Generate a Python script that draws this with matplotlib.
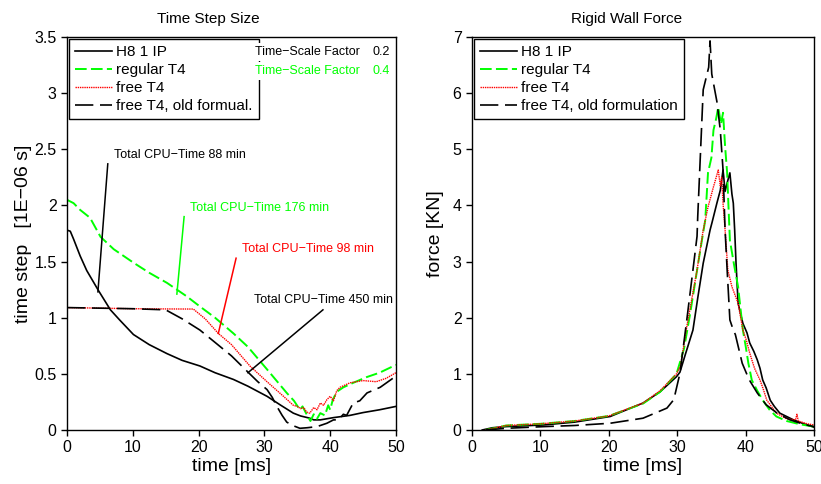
import numpy as np
import matplotlib.pyplot as plt

plt.rcParams['font.family'] = ['Liberation Sans', 'DejaVu Sans']

MINUS = '\u2212'
GREEN = '#00ff00'
RED = '#ff0000'

# ---- left panel: time step size [1E-06 s] vs time [ms]
TS_X_H8 = [0, 0.5, 1, 2, 3, 4, 4.8, 6.6, 8, 10.1, 12.5, 15.2, 17.5, 20.2, 22.5, 25.3,
           27.5, 30.4, 32.5, 34.4, 35.5, 36.9, 37.5, 38.5, 40.5, 43, 45, 47.5, 50]
TS_Y_H8 = [1.78, 1.77, 1.70, 1.55, 1.42, 1.32, 1.24, 1.07, 0.98, 0.85, 0.76, 0.68, 0.62,
           0.57, 0.51, 0.45, 0.39, 0.30, 0.22, 0.15, 0.125, 0.105, 0.09, 0.09, 0.11, 0.13,
           0.155, 0.18, 0.21]

TS_X_REG = [0, 1, 2, 3.5, 5.1, 7.1, 10.1, 12.5, 15.2, 18.2, 20.2, 22.5, 25.3, 27.5, 30.4,
            33.4, 34.5, 35.4, 35.8, 36.5, 37.0, 37.5, 38.0, 38.5, 39.2, 39.7, 40.0, 40.4,
            41, 42, 43.5, 45.5, 47.5, 50]
TS_Y_REG = [2.05, 2.02, 1.96, 1.89, 1.72, 1.61, 1.49, 1.40, 1.31, 1.19, 1.10, 1.00, 0.86,
            0.74, 0.54, 0.33, 0.26, 0.18, 0.21, 0.13, 0.08, 0.14, 0.10, 0.15, 0.13, 0.22,
            0.18, 0.27, 0.34, 0.38, 0.42, 0.47, 0.51, 0.58]

TS_X_FREE = [0, 5, 10, 15, 19.2, 21, 23, 25, 27.8, 30.4, 32.9, 34.4, 35, 35.5, 36, 36.4,
             36.9, 37.5, 38, 38.5, 39, 39.5, 40, 40.5, 41, 41.5, 43, 45, 47, 48.5, 50]
TS_Y_FREE = [1.09, 1.085, 1.08, 1.078, 1.077, 0.99, 0.86, 0.76, 0.57, 0.43, 0.30, 0.22,
             0.21, 0.19, 0.20, 0.16, 0.15, 0.20, 0.18, 0.24, 0.22, 0.27, 0.30, 0.26, 0.35,
             0.38, 0.42, 0.44, 0.43, 0.46, 0.51]

TS_X_OLD = [0, 5, 10, 15, 17.5, 20.2, 22.5, 25, 27.6, 29, 30.4, 31.2, 31.9, 32.7, 33.4,
            34.3, 35.4, 36.5, 38, 39.5, 40.5, 41.3, 42, 42.5, 43.5, 44.5, 45.6, 47.6, 50]
TS_Y_OLD = [1.09, 1.085, 1.08, 1.07, 0.99, 0.89, 0.78, 0.66, 0.51, 0.43, 0.36, 0.29, 0.21,
            0.13, 0.07, 0.04, 0.015, 0.02, 0.03, 0.06, 0.09, 0.09, 0.14, 0.13, 0.24, 0.26,
            0.33, 0.38, 0.48]

# annotations: text, text anchor (left, center), leader line (text end -> curve end), colour
CPU_TEXT = ['Total CPU' + MINUS + 'Time 88 min', 'Total CPU' + MINUS + 'Time 176 min',
            'Total CPU' + MINUS + 'Time 98 min', 'Total CPU' + MINUS + 'Time 450 min']
CPU_TEXT_XY = [(7.1, 2.45), (18.7, 1.98), (26.6, 1.61), (28.4, 1.16)]
CPU_LINE_FROM = [(6.2, 2.37), (17.8, 1.90), (25.7, 1.53), (38.9, 1.07)]
CPU_LINE_TO = [(4.7, 1.23), (16.7, 1.21), (23.0, 0.86), (27.5, 0.51)]
CPU_COLOR = ['black', GREEN, RED, 'black']

TSF_LABELS = ['Time' + MINUS + 'Scale Factor', 'Time' + MINUS + 'Scale Factor']
TSF_VALUES = ['0.2', '0.4']
TSF_COLOR = ['black', GREEN]

# ---- right panel: rigid wall force [KN] vs time [ms]
F_X_H8 = [1.5, 3, 5, 10.5, 15, 20.2, 25, 27.5, 29.9, 30.4, 31.2, 32.3, 33.0, 33.8, 34.8,
          35.1, 35.8, 36.3, 36.7, 37.0, 37.3, 37.7, 38.0, 38.2, 38.4, 38.6, 38.9, 39.3,
          39.6, 40.2, 40.6, 41.2, 41.7, 42.1, 42.5, 43.0, 43.6, 44.2, 45, 46, 47, 48.5, 50]
F_Y_H8 = [0.0, 0.04, 0.06, 0.09, 0.14, 0.24, 0.48, 0.68, 0.95, 1.03, 1.35, 1.78, 2.35,
          2.97, 3.56, 3.70, 4.04, 4.27, 4.63, 4.25, 4.40, 4.58, 4.20, 4.04, 3.56, 2.97,
          2.26, 2.05, 1.90, 1.73, 1.55, 1.40, 1.25, 1.10, 0.89, 0.75, 0.53, 0.42, 0.30,
          0.24, 0.18, 0.11, 0.05]

F_X_REG = [2, 5, 10, 15, 20, 25, 27.5, 29.9, 31.0, 31.9, 33.3, 34.1, 34.5, 35.0, 35.3,
           35.7, 36.0, 36.4, 36.7, 37.0, 37.3, 37.5, 37.7, 38.3, 38.9, 39.6, 40.0, 40.4,
           40.9, 41.7, 42.5, 43.5, 44.5, 46, 48, 50]
F_Y_REG = [0.0, 0.08, 0.11, 0.16, 0.25, 0.47, 0.68, 1.0, 1.45, 2.08, 3.15, 3.74, 4.58,
           4.85, 5.34, 5.55, 5.75, 5.45, 5.65, 5.05, 4.58, 3.97, 3.38, 2.95, 2.55, 1.78,
           1.50, 1.19, 0.89, 0.70, 0.53, 0.36, 0.24, 0.16, 0.10, 0.06]

F_X_FREE = [2, 5, 10, 15, 20, 25, 27.5, 29.9, 30.5, 31.4, 32.9, 33.8, 34.5, 35.3, 35.7,
            36.0, 36.3, 36.5, 36.7, 37.0, 37.4, 38.0, 38.9, 39.6, 40.1, 40.6, 41.3, 42.1,
            42.6, 43.1, 44.5, 46, 47.3, 47.5, 47.7, 49, 50]
F_Y_FREE = [0.0, 0.08, 0.11, 0.16, 0.25, 0.48, 0.70, 1.0, 1.15, 1.84, 2.85, 3.56, 3.97,
            4.33, 4.50, 4.63, 4.35, 4.50, 4.04, 3.56, 2.85, 2.55, 2.26, 1.78, 1.60, 1.37,
            1.10, 0.89, 0.72, 0.53, 0.30, 0.20, 0.18, 0.28, 0.16, 0.11, 0.09]

F_X_OLD = [2, 5, 10.5, 15, 20.2, 25, 28.5, 29.5, 30.4, 31.4, 32.3, 32.9, 33.0, 33.8, 34.6,
           34.8, 35.05, 35.8, 36.3, 36.7, 37.0, 37.3, 37.7, 38.2, 38.5, 39.5, 40.5, 41.7,
           43.0, 44.6, 46.5, 48.5, 50]
F_Y_OLD = [0.0, 0.03, 0.06, 0.08, 0.12, 0.21, 0.39, 0.54, 1.01, 1.96, 2.85, 3.45, 3.8,
           6.06, 6.46, 6.93, 6.34, 5.85, 5.34, 4.63, 3.56, 2.85, 1.96, 1.78, 1.70, 1.19,
           0.90, 0.66, 0.45, 0.30, 0.18, 0.10, 0.06]

LEGEND_LEFT = ['H8 1 IP', 'regular T4', 'free T4', 'free T4, old formual.']
LEGEND_RIGHT = ['H8 1 IP', 'regular T4', 'free T4', 'free T4, old formulation']

STYLES = [dict(color='black', lw=1.2, ls='-'),
          dict(color=GREEN, lw=1.4, ls=(0, (6, 2.2))),
          dict(color=RED, lw=1.0, ls=(0, (1, 0.6))),
          dict(color='black', lw=1.2, ls=(0, (11, 4)))]


def style_axes(ax, ymax, ystep, ylabels):
    ax.set_xlim(0, 50)
    ax.set_ylim(0, ymax)
    ax.set_xticks(np.arange(0, 51, 10))
    yt = np.arange(0, ymax + 1e-9, ystep)
    ax.set_yticks(yt)
    ax.set_yticklabels(ylabels)
    ax.tick_params(direction='out', length=4, width=1, labelsize=11.5, top=False, right=False)
    for s in ax.spines.values():
        s.set_linewidth(1.0)
    ax.set_xlabel('time [ms]', fontsize=14, labelpad=2)


def add_legend(ax, labels):
    leg = ax.legend(labels, loc='upper left', fontsize=11, frameon=True, fancybox=False,
                    edgecolor='black', framealpha=1, borderaxespad=0.12, borderpad=0.4,
                    handlelength=2.4, handletextpad=0.3, labelspacing=0.27)
    leg.get_frame().set_linewidth(1.0)


fig = plt.figure(figsize=(8.21, 4.84), dpi=100)
ax1 = fig.add_axes([0.0816, 0.1116, 0.4007, 0.812])
ax2 = fig.add_axes([0.5749, 0.1116, 0.4166, 0.812])

for (xs, ys), st in zip([(TS_X_H8, TS_Y_H8), (TS_X_REG, TS_Y_REG),
                         (TS_X_FREE, TS_Y_FREE), (TS_X_OLD, TS_Y_OLD)], STYLES):
    ax1.plot(xs, ys, **st)

style_axes(ax1, 3.5, 0.5, ['0', '0.5', '1', '1.5', '2', '2.5', '3', '3.5'])
ax1.set_ylabel('time step   [1E' + MINUS + '06 s]', fontsize=14, labelpad=2)
ax1.set_title('Time Step Size', fontsize=11, x=0.43, pad=10)
add_legend(ax1, LEGEND_LEFT)

for txt, (tx, ty), (x0, y0), (x1, y1), c in zip(CPU_TEXT, CPU_TEXT_XY, CPU_LINE_FROM,
                                                 CPU_LINE_TO, CPU_COLOR):
    ax1.plot([x0, x1], [y0, y1], color=c, lw=1.1)
    ax1.text(tx, ty, txt, color=c, fontsize=9, ha='left', va='center')

# time-scale notes sit on a white box that hides the legend's corner
for i, (lab, val, c) in enumerate(zip(TSF_LABELS, TSF_VALUES, TSF_COLOR)):
    yy = 0.962 - i * 0.049
    ax1.text(0.571, yy, lab, color=c, fontsize=9, ha='left', va='center', zorder=7,
             transform=ax1.transAxes,
             bbox=dict(fc='white', ec='none', boxstyle='square,pad=0.25'))
    ax1.text(0.982, yy, val, color=c, fontsize=9, ha='right', va='center', zorder=7,
             transform=ax1.transAxes)

for (xs, ys), st in zip([(F_X_H8, F_Y_H8), (F_X_REG, F_Y_REG),
                         (F_X_FREE, F_Y_FREE), (F_X_OLD, F_Y_OLD)], STYLES):
    ax2.plot(xs, ys, **st)

style_axes(ax2, 7, 1, [str(v) for v in range(8)])
ax2.set_ylabel('force [KN]', fontsize=14, labelpad=6)
ax2.set_title('Rigid Wall Force', fontsize=11, x=0.453, pad=10)
add_legend(ax2, LEGEND_RIGHT)

fig.savefig('out.png', dpi=100)
